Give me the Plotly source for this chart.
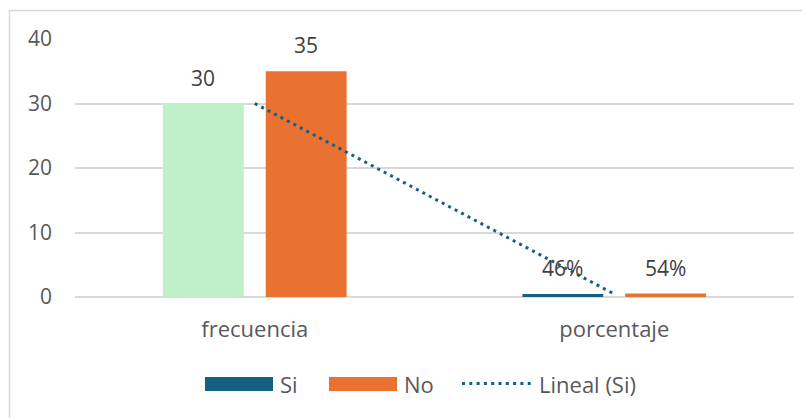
import numpy as np
import plotly.graph_objects as go

categories = ["frecuencia", "porcentaje"]
si_values = [30, 0.46]
no_values = [35, 0.54]
si_labels = ["30", "46%"]
no_labels = ["35", "54%"]
y_ticks = [0, 10, 20, 30, 40]

OFF = 8  # default page body margin
W, H = 810 - OFF, 418 - OFF
L, T = 75 - OFF, 39 - OFF
R, B = W - (794 - OFF), H - (297 - OFF)
PW, PH = W - L - R, H - T - B

FONT = "Open Sans"
GRAY = "#595959"
DARK = "#404040"
BLUE = "#156082"
GREEN = "#C1F0C8"
ORANGE = "#E97132"
GRID = "#D9D9D9"


def px(x):
    return (x - OFF - L) / PW


def py(y):
    return (H - B - (y - OFF)) / PH


# linear trendline of series "Si"
idx = np.arange(1, len(si_values) + 1)
coef = np.polyfit(idx, si_values, 1)
trend = np.polyval(coef, idx)

fig = go.Figure()
fig.add_trace(go.Bar(x=categories, y=si_values, name="Si",
                     marker=dict(color=[GREEN, BLUE], line=dict(width=0)),
                     showlegend=False))
fig.add_trace(go.Bar(x=categories, y=no_values, name="No",
                     marker=dict(color=ORANGE, line=dict(width=0)),
                     showlegend=False))
fig.add_trace(go.Scatter(x=categories, y=trend, mode="lines", name="Lineal (Si)",
                         line=dict(color=BLUE, width=3, dash="3px,4.3px"),
                         showlegend=False))

annotations = []
for cat, v, lab in zip(categories, si_values, si_labels):
    annotations.append(dict(x=cat, y=v, xref="x", yref="y", text=lab, showarrow=False,
                            xshift=-51.5, yshift=10, yanchor="bottom",
                            font=dict(family=FONT, size=21, color=DARK)))
for cat, v, lab in zip(categories, no_values, no_labels):
    annotations.append(dict(x=cat, y=v, xref="x", yref="y", text=lab, showarrow=False,
                            xshift=51.5, yshift=10, yanchor="bottom",
                            font=dict(family=FONT, size=21, color=DARK)))

# custom legend
leg_y = 383.5
shapes = [
    dict(type="rect", xref="paper", yref="paper", x0=px(9.5), x1=px(830), y0=py(440), y1=py(10.5),
         line=dict(color=GRID, width=1.5), fillcolor="rgba(0,0,0,0)", layer="below"),
    dict(type="rect", xref="paper", yref="paper", x0=px(205), x1=px(273), y0=py(391), y1=py(377),
         line=dict(width=0), fillcolor=BLUE),
    dict(type="rect", xref="paper", yref="paper", x0=px(329), x1=px(397), y0=py(391), y1=py(377),
         line=dict(width=0), fillcolor=ORANGE),
    dict(type="line", xref="paper", yref="paper", x0=px(462), x1=px(533), y0=py(leg_y), y1=py(leg_y),
         line=dict(color=BLUE, width=3, dash="3px,4.3px")),
]
for x0, txt in [(278, "Si"), (402, "No"), (537, "Lineal (Si)")]:
    annotations.append(dict(x=px(x0), y=py(leg_y), xref="paper", yref="paper", text=txt,
                            showarrow=False, xanchor="left", yanchor="middle",
                            font=dict(family=FONT, size=22, color=GRAY)))

fig.update_layout(
    width=W, height=H,
    margin=dict(l=L, r=R, t=T, b=B, pad=0),
    paper_bgcolor="white", plot_bgcolor="white",
    barmode="group", bargap=0.428, bargroupgap=0.2136,
    showlegend=False,
    font=dict(family=FONT, size=21, color=GRAY),
    annotations=annotations, shapes=shapes,
    xaxis=dict(type="category", categoryorder="array", categoryarray=categories,
               showgrid=False, showline=False, zeroline=False, ticks="",
               ticklabelstandoff=17, tickfont=dict(family=FONT, size=22, color=GRAY)),
    yaxis=dict(range=[0, 40], tickvals=y_ticks, showgrid=True, gridcolor=GRID, gridwidth=1.5,
               zeroline=True, zerolinecolor=GRID, zerolinewidth=1.5, showline=False, ticks="",
               ticklabelstandoff=22, tickfont=dict(family=FONT, size=21, color=GRAY)),
)

fig.write_html("out.html")
